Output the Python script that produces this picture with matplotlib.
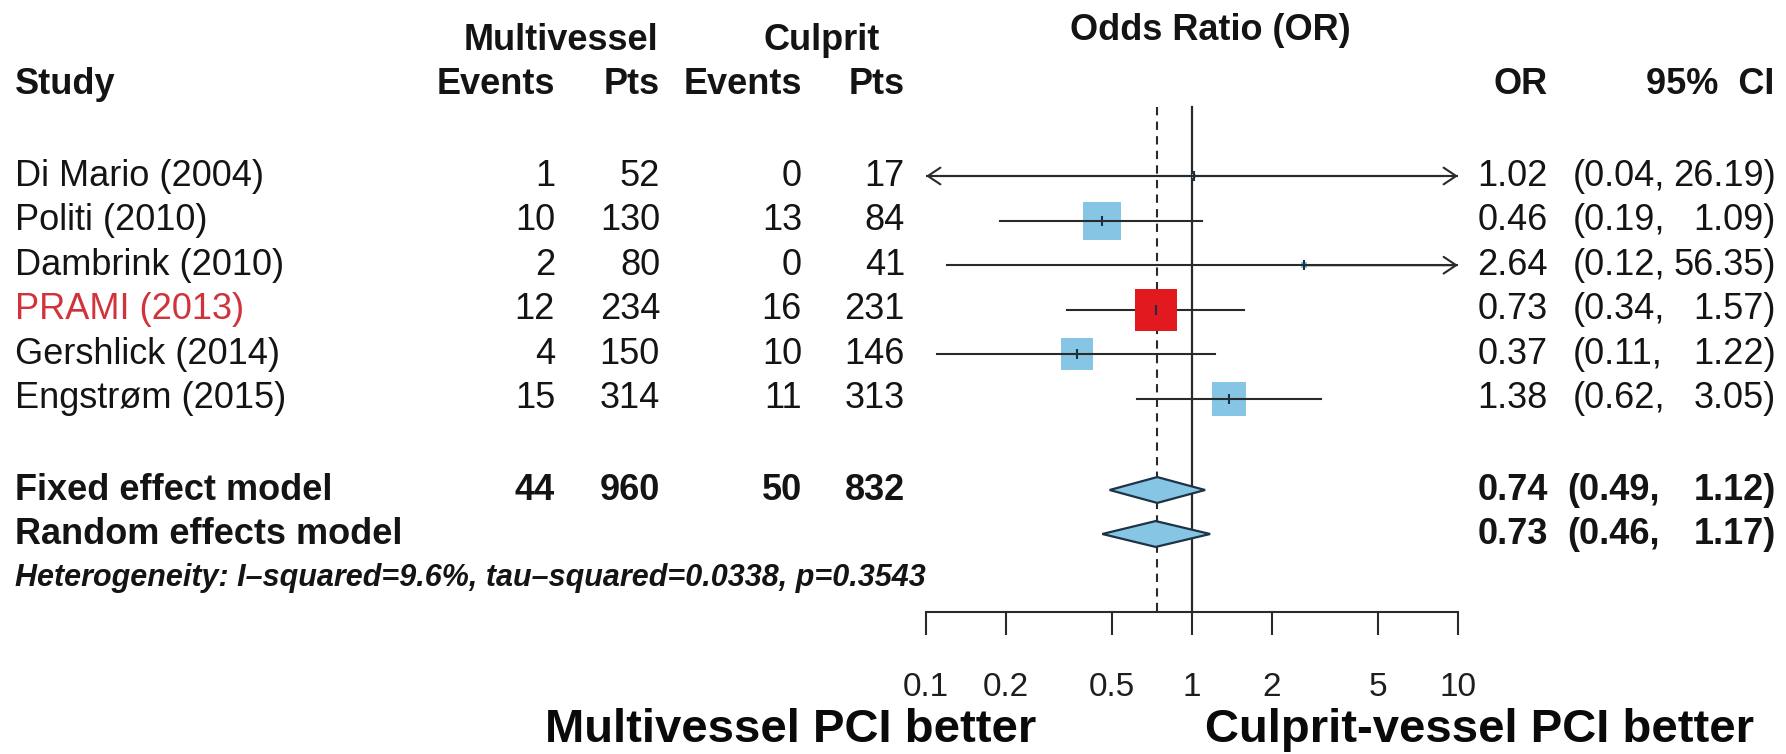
import numpy as np
import matplotlib.pyplot as plt
from matplotlib.patches import Polygon
from matplotlib.ticker import NullLocator
from matplotlib.transforms import blended_transform_factory

plt.rcParams['font.family'] = ['Liberation Sans', 'DejaVu Sans']

# Study data
studies = ['Di Mario (2004)', 'Politi (2010)', 'Dambrink (2010)', 'PRAMI (2013)',
           'Gershlick (2014)', 'Engstrøm (2015)']
mv_events = [1, 10, 2, 12, 4, 15]
mv_pts = [52, 130, 80, 234, 150, 314]
cu_events = [0, 13, 0, 16, 10, 11]
cu_pts = [17, 84, 41, 231, 146, 313]
odds = [1.02, 0.46, 2.64, 0.73, 0.37, 1.38]
ci_low = [0.04, 0.19, 0.12, 0.34, 0.11, 0.62]
ci_high = [26.19, 1.09, 56.35, 1.57, 1.22, 3.05]
weights = [0.3, 25.2, 0.5, 34.0, 18.8, 21.3]  # fixed effect weight (%)
highlight = 'PRAMI (2013)'

# Pooled estimates
pooled_labels = ['Fixed effect model', 'Random effects model']
pooled_or = [0.74, 0.73]
pooled_low = [0.49, 0.46]
pooled_high = [1.12, 1.17]
totals = [44, 960, 50, 832]
heterogeneity = 'Heterogeneity: I\u2013squared=9.6%, tau\u2013squared=0.0338, p=0.3543'

ticks = [0.1, 0.2, 0.5, 1, 2, 5, 10]
tick_labels = ['0.1', '0.2', '0.5', '1', '2', '5', '10']

# layout (pixels)
W, H = 1786, 754
row0, pitch = 176, 44.6
FS = 26
TXT = '#141414'
BLUE = '#86C6E4'
RED = '#E2191E'
LINE = '#2a2a2a'

fig = plt.figure(figsize=(W / 100, H / 100), dpi=100)
ax = fig.add_axes([926 / W, 0, 532 / W, 1])
ax.patch.set_visible(False)
ax.set_xscale('log')
ax.set_xlim(0.1, 10)
ax.set_ylim((H - row0) / pitch, -row0 / pitch)


def yrow(p):
    return (p - row0) / pitch


def fx(p):
    return p / W


tr = blended_transform_factory(fig.transFigure, ax.transData)

axis_y = yrow(612)
top_y = yrow(107)

# x axis along the bottom of the plot
for s in ['top', 'left', 'right']:
    ax.spines[s].set_visible(False)
ax.spines['bottom'].set_position(('data', axis_y))
ax.spines['bottom'].set_bounds(0.1, 10)
ax.spines['bottom'].set_linewidth(1.5)
ax.spines['bottom'].set_color(LINE)
ax.set_xticks(ticks, tick_labels)
ax.xaxis.set_minor_locator(NullLocator())
ax.tick_params(axis='x', direction='out', length=16.5, width=1.5, color=LINE,
               pad=27, labelsize=24, labelcolor='#1e1e1e')
ax.set_yticks([])

# reference lines
ax.plot([1, 1], [top_y, axis_y], color=LINE, lw=1.6, zorder=1)
ax.plot([pooled_or[0]] * 2, [top_y, axis_y], color=LINE, lw=1.5,
        ls=(0, (4, 3)), zorder=1)

# study estimates
rows = np.arange(len(studies))
wmax = max(weights)
arrow = dict(arrowstyle='->,head_length=0.45,head_width=0.3', lw=1.5,
             color=LINE, shrinkA=0, shrinkB=0, mutation_scale=20)
for i, name in enumerate(studies):
    lo, hi, est = ci_low[i], ci_high[i], odds[i]
    ax.plot([max(lo, 0.1), min(hi, 10)], [i, i], color=LINE, lw=1.5, zorder=3)
    if lo < 0.1:
        ax.annotate('', xy=(0.1, i), xytext=(est, i), arrowprops=arrow)
    if hi > 10:
        ax.annotate('', xy=(10, i), xytext=(est, i), arrowprops=arrow)
    side = 43 * np.sqrt(weights[i] / wmax) * 0.72
    col = RED if name == highlight else BLUE
    ax.scatter([est], [i], s=side ** 2, marker='s', color=col, linewidths=0,
               zorder=4 if name == highlight else 2)
    ax.scatter([est], [i], s=45, marker='|', color='#1b2f45', linewidths=1.5,
               zorder=5)

# pooled diamonds
pool_rows = [yrow(490), yrow(534)]
for k, y in enumerate(pool_rows):
    dh = 0.29
    pts = [(pooled_low[k], y), (pooled_or[k], y - dh),
           (pooled_high[k], y), (pooled_or[k], y + dh)]
    ax.add_patch(Polygon(pts, closed=True, facecolor=BLUE, edgecolor='#1d3346',
                         lw=1.6, zorder=4))


def put(x, y, s, ha='right', **kw):
    kw.setdefault('fontsize', FS)
    kw.setdefault('color', TXT)
    ax.text(fx(x), y, s, transform=tr, ha=ha, va='center', clip_on=False, **kw)


# column headings
hdr1, hdr2 = yrow(40), yrow(85)
put(561, hdr1, 'Multivessel', ha='center', fontweight='bold')
put(822, hdr1, 'Culprit', ha='center', fontweight='bold')
put(1210, yrow(30), 'Odds Ratio (OR)', ha='center', fontweight='bold')
put(15, hdr2, 'Study', ha='left', fontweight='bold')
put(555, hdr2, 'Events', fontweight='bold')
put(660, hdr2, 'Pts', fontweight='bold')
put(802, hdr2, 'Events', fontweight='bold')
put(905, hdr2, 'Pts', fontweight='bold')
put(1548, hdr2, 'OR', fontweight='bold')
put(1774, hdr2, '95%  CI', fontweight='bold')

# study rows
for i, name in enumerate(studies):
    put(15, i, name, ha='left', color='#D1333D' if name == highlight else TXT)
    put(555, i, str(mv_events[i]))
    put(660, i, str(mv_pts[i]))
    put(802, i, str(cu_events[i]))
    put(905, i, str(cu_pts[i]))
    put(1548, i, f'{odds[i]:.2f}')
    put(1573, i, f'({ci_low[i]:.2f},', ha='left')
    put(1776, i, f'{ci_high[i]:.2f})')

# pooled rows
for k, y in enumerate(pool_rows):
    put(15, y, pooled_labels[k], ha='left', fontweight='bold')
    if k == 0:
        for xp, v in zip([555, 660, 802, 905], totals):
            put(xp, y, str(v), fontweight='bold')
    put(1548, y, f'{pooled_or[k]:.2f}', fontweight='bold')
    put(1567, y, f'({pooled_low[k]:.2f},', ha='left', fontweight='bold')
    put(1776, y, f'{pooled_high[k]:.2f})', fontweight='bold')

put(15, yrow(578), heterogeneity, ha='left', fontsize=22, fontweight='bold',
    fontstyle='italic')

# direction labels
ax.text(fx(545), yrow(742), 'Multivessel PCI better', transform=tr, ha='left',
        va='baseline', fontsize=34, fontweight='bold', color='#0a0a0a')
ax.text(fx(1205), yrow(742), 'Culprit-vessel PCI better', transform=tr,
        ha='left', va='baseline', fontsize=34, fontweight='bold', color='#0a0a0a')

fig.savefig('out.png', dpi=100)
